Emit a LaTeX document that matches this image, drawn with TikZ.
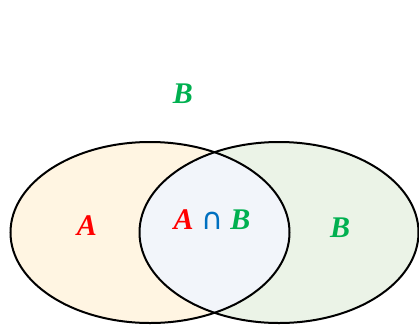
\documentclass[tikz,border=0pt]{standalone}
\usepackage{fontspec}
\setmainfont{Liberation Serif}
\newfontfamily\symfont{DejaVu Sans}
\definecolor{cream}{HTML}{FFF5E2}
\definecolor{lgreen}{HTML}{EBF3E7}
\definecolor{lblue}{HTML}{F2F5FA}
\definecolor{vred}{HTML}{FF0000}
\definecolor{vgreen}{HTML}{00B050}
\definecolor{vblue}{HTML}{0070C0}
\tikzset{
  setlabel/.style={font=\fontsize{30}{31}\selectfont\bfseries\itshape, inner sep=0pt},
  outline/.style={draw=black, line width=2pt}
}
\begin{document}
\begin{tikzpicture}[x=1pt,y=1pt]
\useasboundingbox (0,0) rectangle (419,325);
\fill[cream] (150,92.5) ellipse [x radius=139.5, y radius=90.5];
\fill[lgreen] (279,92.5) ellipse [x radius=139.5, y radius=90.5];
\begin{scope}
\clip (150,92.5) ellipse [x radius=139.5, y radius=90.5];
\fill[lblue] (279,92.5) ellipse [x radius=139.5, y radius=90.5];
\end{scope}
\draw[outline] (150,92.5) ellipse [x radius=139.5, y radius=90.5];
\draw[outline] (279,92.5) ellipse [x radius=139.5, y radius=90.5];
\node[setlabel, text=vred] (la) at (87,99) {A};
\node[setlabel, text=vgreen] (lb) at (340,97) {B};
\node[setlabel] (lab) at (212,105) {\textcolor{vred}{A} {\symfont\mdseries\upshape\fontsize{30}{31}\selectfont\textcolor{vblue}{∩}} \textcolor{vgreen}{B}};
\node[setlabel, text=vgreen] (top) at (183,231) {B};
\end{tikzpicture}
\end{document}
